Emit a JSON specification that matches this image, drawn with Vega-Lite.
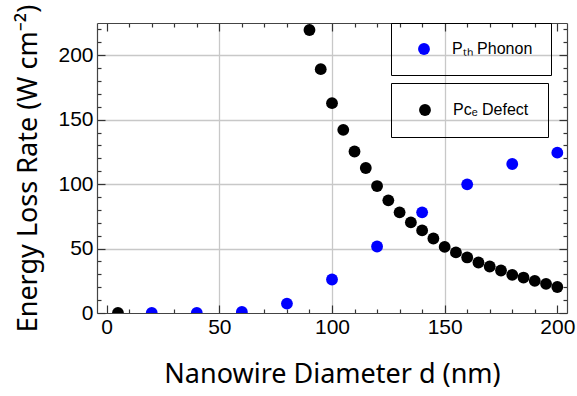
{
  "$schema": "https://vega.github.io/schema/vega-lite/v6.json",
  "width": 470,
  "height": 290,
  "autosize": {"type": "none"},
  "padding": {"left": 97, "top": 23, "right": 10, "bottom": 83},
  "config": {
    "view": {"stroke": null},
    "axis": {
      "domainColor": "#444",
      "domainWidth": 1.2,
      "tickColor": "#333",
      "tickWidth": 1.2,
      "gridColor": "#c8c8c8",
      "gridWidth": 1.3,
      "labelFont": "Liberation Sans",
      "labelFontSize": 21,
      "labelColor": "black",
      "titleFont": "Noto Sans",
      "titleFontSize": 27,
      "titleFontWeight": "normal",
      "titleColor": "black"
    },
    "legend": {
      "labelFont": "Liberation Sans",
      "labelFontSize": 16,
      "labelColor": "black"
    }
  },
  "data": {
    "values": [
      {"d": 20, "value": 0, "series": "phonon"},
      {"d": 40, "value": 0, "series": "phonon"},
      {"d": 60, "value": 0.8, "series": "phonon"},
      {"d": 80, "value": 7.3, "series": "phonon"},
      {"d": 100, "value": 26, "series": "phonon"},
      {"d": 120, "value": 51.6, "series": "phonon"},
      {"d": 140, "value": 78.1, "series": "phonon"},
      {"d": 160, "value": 99.8, "series": "phonon"},
      {"d": 180, "value": 115.6, "series": "phonon"},
      {"d": 200, "value": 124.4, "series": "phonon"},
      {"d": 5, "value": 0, "series": "defect"},
      {"d": 90, "value": 219.6, "series": "defect"},
      {"d": 95, "value": 189.2, "series": "defect"},
      {"d": 100, "value": 162.8, "series": "defect"},
      {"d": 105, "value": 142.1, "series": "defect"},
      {"d": 110, "value": 125.3, "series": "defect"},
      {"d": 115, "value": 112.5, "series": "defect"},
      {"d": 120, "value": 98.5, "series": "defect"},
      {"d": 125, "value": 87.4, "series": "defect"},
      {"d": 130, "value": 78.1, "series": "defect"},
      {"d": 135, "value": 70.3, "series": "defect"},
      {"d": 140, "value": 64.1, "series": "defect"},
      {"d": 145, "value": 57.8, "series": "defect"},
      {"d": 150, "value": 51.3, "series": "defect"},
      {"d": 155, "value": 47.0, "series": "defect"},
      {"d": 160, "value": 43.1, "series": "defect"},
      {"d": 165, "value": 39.2, "series": "defect"},
      {"d": 170, "value": 36.1, "series": "defect"},
      {"d": 175, "value": 33.0, "series": "defect"},
      {"d": 180, "value": 29.6, "series": "defect"},
      {"d": 185, "value": 27.5, "series": "defect"},
      {"d": 190, "value": 24.9, "series": "defect"},
      {"d": 195, "value": 22.6, "series": "defect"},
      {"d": 200, "value": 20.2, "series": "defect"}
    ]
  },
  "layer": [
    {
      "transform": [{"filter": "datum.series === 'phonon'"}],
      "mark": {"type": "point", "filled": true, "size": 140, "opacity": 1, "clip": true},
      "encoding": {
        "x": {
          "field": "d", "type": "quantitative",
          "scale": {"domain": [-4.3, 204.3], "nice": false, "zero": false},
          "axis": {
            "orient": "bottom",
            "values": [0,10,20,30,40,50,60,70,80,90,100,110,120,130,140,150,160,170,180,190,200],
            "labelExpr": "datum.value % 50 === 0 ? datum.label : ''",
            "ticks": true,
            "tickSize": {"condition": {"test": "datum.value % 50 === 0", "value": -8}, "value": -4},
            "gridOpacity": {"condition": {"test": "datum.value % 50 === 0 && datum.value > 0 && datum.value < 200", "value": 1}, "value": 0},
            "grid": true,
            "labelPadding": 11,
            "labelFlush": false,
            "labelOverlap": false,
            "title": "Nanowire Diameter d (nm)",
            "titlePadding": 20
          }
        },
        "y": {
          "field": "value", "type": "quantitative",
          "scale": {"domain": [0, 225], "nice": false},
          "axis": {
            "orient": "left",
            "values": [0,10,20,30,40,50,60,70,80,90,100,110,120,130,140,150,160,170,180,190,200,210,220],
            "labelExpr": "datum.value % 50 === 0 ? datum.label : ''",
            "ticks": true,
            "tickSize": {"condition": {"test": "datum.value % 50 === 0", "value": -8}, "value": -4},
            "gridOpacity": {"condition": {"test": "datum.value % 50 === 0 && datum.value > 0", "value": 1}, "value": 0},
            "grid": true,
            "labelPadding": 12,
            "labelFlush": false,
            "labelOverlap": false,
            "title": "Energy Loss Rate (W cm⁻²)",
            "titlePadding": 15
          }
        },
        "color": {
          "field": "series", "type": "nominal",
          "scale": {"domain": ["phonon"], "range": ["#0000ff"]},
          "legend": {
            "orient": "none", "legendX": 294, "legendY": 0,
            "title": null,
            "labelExpr": "'Pₜₕ Phonon'",
            "strokeColor": "black",
            "padding": 18,
            "symbolSize": 140,
            "symbolOffset": 7,
            "labelOffset": 20,
            "symbolStrokeWidth": 0
          }
        }
      }
    },
    {
      "transform": [{"filter": "datum.series === 'defect'"}],
      "mark": {"type": "point", "filled": true, "size": 140, "opacity": 1, "clip": true},
      "encoding": {
        "x": {
          "field": "d", "type": "quantitative",
          "axis": {
            "orient": "top",
            "values": [0,10,20,30,40,50,60,70,80,90,100,110,120,130,140,150,160,170,180,190,200],
            "labels": false,
            "grid": false,
            "ticks": true,
            "tickSize": {"condition": {"test": "datum.value % 50 === 0", "value": -8}, "value": -4},
            "title": null
          }
        },
        "y": {
          "field": "value", "type": "quantitative",
          "axis": {
            "orient": "right",
            "values": [0,10,20,30,40,50,60,70,80,90,100,110,120,130,140,150,160,170,180,190,200,210,220],
            "labels": false,
            "grid": false,
            "ticks": true,
            "tickSize": {"condition": {"test": "datum.value % 50 === 0", "value": -8}, "value": -4},
            "title": null
          }
        },
        "color": {
          "field": "series", "type": "nominal",
          "scale": {"domain": ["defect"], "range": ["black"]},
          "legend": {
            "orient": "none", "legendX": 294, "legendY": 60,
            "title": null,
            "labelExpr": "'Pcₑ Defect'",
            "strokeColor": "black",
            "padding": 19,
            "symbolSize": 140,
            "symbolOffset": 7,
            "labelOffset": 20,
            "symbolStrokeWidth": 0
          }
        }
      }
    }
  ],
  "resolve": {
    "scale": {"color": "independent"},
    "axis": {"x": "independent", "y": "independent"},
    "legend": {"color": "independent"}
  }
}
